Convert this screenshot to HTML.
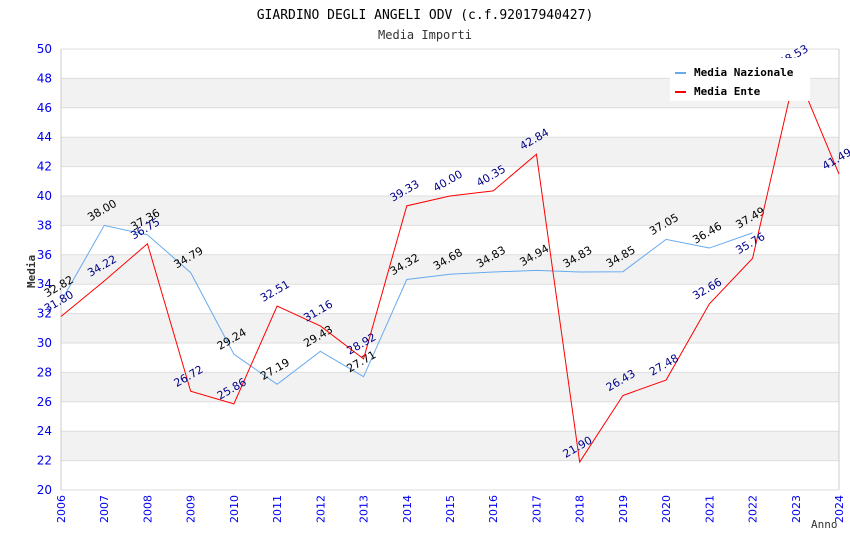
<!DOCTYPE html>
<html><head><meta charset="utf-8"><style>
body{margin:0;background:#fff;}
svg text{font-family:"DejaVu Sans","Liberation Sans",sans-serif;}
svg text.mono{font-family:"DejaVu Sans Mono","Liberation Mono",monospace;}
</style></head><body>
<svg id="c" width="850" height="550"></svg>
<script>
const years=[2006,2007,2008,2009,2010,2011,2012,2013,2014,2015,2016,2017,2018,2019,2020,2021,2022,2023,2024];
const nazionale=[32.82,38.00,37.36,34.79,29.24,27.19,29.43,27.71,34.32,34.68,34.83,34.94,34.83,34.85,37.05,36.46,37.49];
const ente=[31.80,34.22,36.75,26.72,25.86,32.51,31.16,28.92,39.33,40.00,40.35,42.84,21.90,26.43,27.48,32.66,35.76,48.53,41.49];
const yTicks=[20,22,24,26,28,30,32,34,36,38,40,42,44,46,48,50];
const X0=61,X1=839,Y0=490,Y1=49;
const sx=i=>X0+(X1-X0)*i/(years.length-1);
const sy=v=>Y0-(v-20)/30*(Y0-Y1);
const svg=document.getElementById('c');
const NS='http://www.w3.org/2000/svg';
function el(t,a,p){const e=document.createElementNS(NS,t);for(const k in a)e.setAttribute(k,a[k]);(p||svg).appendChild(e);return e;}
for(let i=0;i<yTicks.length-1;i++){
  if(i%2===1){const r=el('rect',{x:X0,y:sy(yTicks[i+1]),width:X1-X0,height:sy(yTicks[i])-sy(yTicks[i+1]),fill:'#f2f2f2'});
  
  }
}
yTicks.forEach(v=>{
  const l=el('line',{x1:X0,x2:X1,y1:sy(v),y2:sy(v),stroke:'#dddddd'});
  
  
  const t=el('text',{x:X0-9,y:sy(v)+4,'text-anchor':'end','font-size':12,fill:'#0000ee'});t.textContent=v;
  
  
});
el('line',{x1:X0,x2:X0,y1:Y1,y2:Y0,stroke:'#ccc'});
el('line',{x1:X1,x2:X1,y1:Y1,y2:Y0,stroke:'#ccc'});
years.forEach((y,i)=>{
  const t=el('text',{transform:`translate(${sx(i)+4},${Y0+33}) rotate(-90)`,'font-size':11,fill:'#0000ee'});t.textContent=y;
  
  
});
function series(vals,color,lblColor,name){
  const pts=vals.map((v,i)=>sx(i)+','+sy(v)).join(' ');
  const p=el('polyline',{points:pts,fill:'none',stroke:color,'stroke-width':1});
  
  
  vals.forEach((v,i)=>{
    const t=el('text',{transform:`translate(${sx(i)-14},${sy(v)-4}) rotate(-30)`,'font-size':11,fill:lblColor});
    t.textContent=v.toFixed(2);
    
    
  });
}
series(nazionale,'#66aaee','#000','line-media-nazionale');
series(ente,'#ff0000','#000088','line-media-ente');
const t1=el('text',{x:425,y:19,'text-anchor':'middle','font-size':13,fill:'#000',class:'mono'});t1.textContent='GIARDINO DEGLI ANGELI ODV (c.f.92017940427)';

const t2=el('text',{x:425,y:39,'text-anchor':'middle','font-size':12,fill:'#333',class:'mono'});t2.textContent='Media Importi';

const yt=el('text',{transform:'translate(35,288) rotate(-90)','font-size':11,'font-weight':'bold',fill:'#333',class:'mono'});yt.textContent='Media';

const xt=el('text',{x:811,y:528,'font-size':11,fill:'#333',class:'mono'});xt.textContent='Anno';

const lg=el('g',{});

el('rect',{x:670,y:58,width:140,height:43,fill:'#fff'},lg);
[['Media Nazionale','#66aaee',72],['Media Ente','#ff0000',91]].forEach(([n,c,y])=>{
  const g=el('g',{},lg);
  
  el('rect',{x:675,y:y,width:11,height:2,fill:c},g);
  const t=el('text',{x:694,y:y+4,'font-size':11,'font-weight':'bold',fill:'#000',class:'mono'},g);t.textContent=n;
});
</script>
</body></html>
